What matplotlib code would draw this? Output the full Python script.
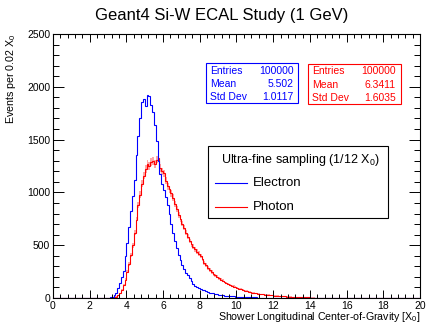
import numpy as np
import matplotlib
matplotlib.use("Agg")
import matplotlib.pyplot as plt
from matplotlib.patches import Rectangle
from matplotlib.lines import Line2D
from matplotlib.ticker import MultipleLocator

plt.rcParams["font.family"] = ["Liberation Sans", "DejaVu Sans"]
plt.rcParams["mathtext.default"] = "regular"

# histogram contents, 0.1 X0 wide bins starting at 3.0
BIN_START = 3.0
BIN_WIDTH = 0.1
X_RANGE = (0.0, 20.0)

electron = [
    2, 5, 12, 28, 50, 90, 140, 195, 260, 400,
    520, 670, 820, 970, 1120, 1350, 1530, 1700, 1860, 1880,
    1820, 1920, 1915, 1830, 1760, 1640, 1490, 1300, 1170, 1080,
    1020, 960, 880, 800, 700, 620, 540, 470, 410, 360,
    310, 275, 240, 215, 190, 160, 130, 110, 100, 92,
    85, 78, 72, 64, 57, 52, 47, 43, 39, 35,
    31, 28, 25, 23, 21, 19, 17, 16, 15, 14,
    13, 12, 11, 10, 9, 8, 7, 6, 6, 5,
    5, 4, 4, 4, 3, 3, 3, 3, 2, 2,
    2, 2, 2, 2, 1, 1, 1, 1, 1, 1,
    1, 1, 1, 0, 1, 0, 0, 1, 0, 0,
]

photon = [
    0, 1, 3, 7, 14, 25, 45, 75, 120, 175,
    250, 320, 410, 500, 620, 740, 880, 980, 1080, 1160,
    1220, 1270, 1250, 1290, 1300, 1270, 1310, 1330, 1230, 1200,
    1180, 1110, 1060, 1030, 990, 950, 890, 840, 790, 745,
    705, 665, 620, 580, 540, 510, 485, 460, 440, 420,
    400, 370, 335, 310, 285, 265, 245, 228, 215, 200,
    188, 175, 163, 152, 140, 130, 122, 115, 108, 102,
    96, 88, 82, 76, 70, 65, 60, 56, 52, 48,
    45, 42, 39, 36, 34, 32, 30, 28, 26, 25,
    23, 21, 20, 18, 17, 16, 15, 13, 12, 11,
    10, 9, 9, 8, 7, 7, 6, 6, 5, 5,
    4, 4, 4, 3, 3, 3, 2, 2, 2, 2,
    2, 1, 1, 1, 1, 1, 1, 1, 0, 0,
]

stat_names = ["Entries", "Mean", "Std Dev"]
electron_stats = ["100000", "5.502", "1.0117"]
photon_stats = ["100000", "6.3411", "1.6035"]

BLUE = "#0000ff"
RED = "#ff0000"
W, H = 427, 323


def padded(values):
    v = np.asarray(values, dtype=float)
    edges = BIN_START + BIN_WIDTH * np.arange(len(v) + 1)
    edges = np.concatenate([[X_RANGE[0]], edges, [X_RANGE[1]]])
    v = np.concatenate([[0.0], v, [0.0]])
    return v, edges


def fx(px):
    return px / W


def fy(py):
    return 1 - py / H


fig = plt.figure(figsize=(W / 100, H / 100), dpi=100)
ax = fig.add_axes([fx(53), fy(298), fx(420) - fx(53), fy(34) - fy(298)])

pv, pe = padded(photon)
err = np.sqrt(pv)
ax.stairs(pv + err, pe, baseline=np.clip(pv - err, 0, None), fill=True,
          color=(1, 0, 0, 0.35), lw=0)
ax.stairs(pv, pe, color=RED, lw=0.8)
ev, ee = padded(electron)
ax.stairs(ev, ee, color=BLUE, lw=0.8)

ax.set_xlim(*X_RANGE)
ax.set_ylim(0, 2500)
ax.xaxis.set_major_locator(MultipleLocator(2))
ax.xaxis.set_minor_locator(MultipleLocator(0.4))
ax.yaxis.set_major_locator(MultipleLocator(500))
ax.yaxis.set_minor_locator(MultipleLocator(100))
ax.tick_params(axis="both", which="both", direction="in", top=True, right=True,
               labelsize=7.5, width=0.7)
ax.tick_params(axis="x", which="major", length=5.8, pad=2)
ax.tick_params(axis="x", which="minor", length=2.9)
ax.tick_params(axis="y", which="major", length=7.9, pad=2)
ax.tick_params(axis="y", which="minor", length=4)
for s in ax.spines.values():
    s.set_linewidth(0.8)

ax.set_xlabel("Shower Longitudinal Center-of-Gravity [X$_0$]", fontsize=7.7, loc="right")
ax.xaxis.set_label_coords(1.0, -0.047)
ax.set_ylabel("Events per 0.02 X$_0$", fontsize=7.7, loc="top")
ax.yaxis.set_label_coords(-0.095, 1.0)

fig.text(fx(222), fy(15.5), "Geant4 Si-W ECAL Study (1 GeV)", fontsize=12,
         ha="center", va="center")

# stat boxes
for (x0, x1, y0, y1, lx, rx, vals, col) in [
    (206, 298, 63, 103, 210.5, 293.5, electron_stats, BLUE),
    (308, 401, 64, 104, 312.5, 395.5, photon_stats, RED),
]:
    fig.add_artist(Rectangle((fx(x0), fy(y1)), fx(x1) - fx(x0), fy(y0) - fy(y1),
                             transform=fig.transFigure, fill=True, facecolor="white",
                             edgecolor=col, lw=0.8))
    for i, (name, val) in enumerate(zip(stat_names, vals)):
        yy = fy(y0 + 7.5 + 13.2 * i)
        fig.text(fx(lx), yy, name, color=col, fontsize=7.5, ha="left", va="center")
        fig.text(fx(rx), yy, val, color=col, fontsize=7.5, ha="right", va="center")

# legend
fig.add_artist(Rectangle((fx(208), fy(218)), fx(388) - fx(208), fy(146) - fy(218),
                         transform=fig.transFigure, facecolor="white",
                         edgecolor="black", lw=0.8))
fig.text(fx(300), fy(160), "Ultra-fine sampling (1/12 X$_0$)", fontsize=9,
         ha="center", va="center")
for yy, label, col in [(183, "Electron", BLUE), (207, "Photon", RED)]:
    fig.add_artist(Line2D([fx(215), fx(247)], [fy(yy), fy(yy)],
                          transform=fig.transFigure, color=col, lw=0.8))
    fig.text(fx(253), fy(yy), label, fontsize=9.5, ha="left", va="center")

fig.savefig("out.png", dpi=100)
